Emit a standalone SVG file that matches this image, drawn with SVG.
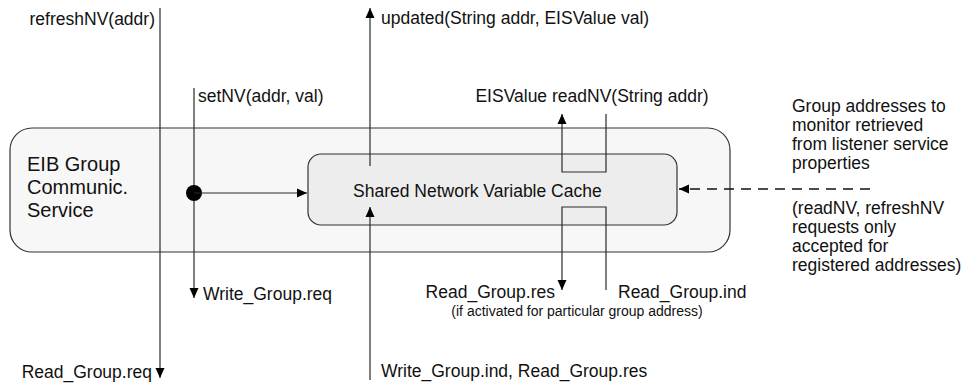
<svg xmlns="http://www.w3.org/2000/svg" width="963" height="383" viewBox="0 0 963 383">
<defs>
<marker id="ah" viewBox="0 0 10 10" refX="10" refY="5" markerWidth="10" markerHeight="10" markerUnits="userSpaceOnUse" orient="auto"><path d="M0,0.5 L10,5 L0,9.5 z" fill="#000"/></marker>
<style>
text{font-family:"Liberation Sans",Arial,sans-serif;font-size:17.5px;fill:#111}
.ln{fill:none;stroke:#2a2a2a;stroke-width:1.2}
.dash{fill:none;stroke:#111;stroke-width:1.3;stroke-dasharray:10,7}
.big{font-size:20px}
.sm{font-size:14px}
</style>
</defs>
<rect width="963" height="383" fill="#fff"/>
<g id="service">
<rect x="10" y="128" width="720" height="124" rx="22" ry="22" fill="#f7f7f7" stroke="#333" stroke-width="1.2"/>
<text class="big" x="27" y="171">EIB Group</text>
<text class="big" x="27" y="194">Communic.</text>
<text class="big" x="27" y="217">Service</text>
</g>
<g id="cache">
<rect x="308" y="154" width="369" height="71" rx="13" ry="13" fill="#ededed" stroke="#333" stroke-width="1.2"/>
<text x="353" y="197">Shared Network Variable Cache</text>
</g>
<g id="connectors">
<line class="ln" x1="160" y1="8" x2="160" y2="378" marker-end="url(#ah)"/>
<line class="ln" x1="194" y1="88" x2="194" y2="298" marker-end="url(#ah)"/>
<circle cx="194" cy="193" r="8" fill="#000"/>
<line class="ln" x1="194" y1="193" x2="307" y2="193" marker-end="url(#ah)"/>
<line class="ln" x1="370" y1="166" x2="370" y2="8" marker-end="url(#ah)"/>
<line class="ln" x1="370" y1="380" x2="370" y2="207" marker-end="url(#ah)"/>
<polyline class="ln" points="606,114 606,172 562,172 562,114" marker-end="url(#ah)"/>
<polyline class="ln" points="606,290 606,207 562,207 562,290" marker-end="url(#ah)"/>
<line class="dash" x1="870" y1="189" x2="679" y2="189" marker-end="url(#ah)"/>
</g>
<g id="labels">
<text x="155" y="25" text-anchor="end">refreshNV(addr)</text>
<text x="198" y="102">setNV(addr, val)</text>
<text x="381" y="24">updated(String addr, EISValue val)</text>
<text x="592" y="102" text-anchor="middle">EISValue readNV(String addr)</text>
<text x="203" y="300">Write_Group.req</text>
<text x="152" y="378" text-anchor="end">Read_Group.req</text>
<text x="381" y="377">Write_Group.ind, Read_Group.res</text>
<text x="555" y="298" text-anchor="end">Read_Group.res</text>
<text x="618" y="298">Read_Group.ind</text>
<text class="sm" x="577" y="316" text-anchor="middle">(if activated for particular group address)</text>
<text x="792" y="112">Group addresses to</text>
<text x="792" y="131">monitor retrieved</text>
<text x="792" y="150">from listener service</text>
<text x="792" y="169">properties</text>
<text x="792" y="214">(readNV, refreshNV</text>
<text x="792" y="233">requests only</text>
<text x="792" y="252">accepted for</text>
<text x="792" y="271">registered addresses)</text>
</g>
</svg>
